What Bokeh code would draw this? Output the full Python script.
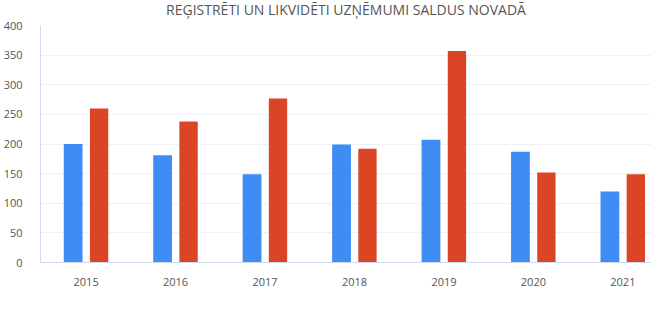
from bokeh.plotting import figure
from bokeh.models import Range1d, FixedTicker, Legend, LegendItem, ColumnDataSource
from bokeh.transform import dodge
from bokeh.embed import file_html
from bokeh.resources import INLINE

years = [2015, 2016, 2017, 2018, 2019, 2020, 2021]
registreti = [200, 181, 149, 199, 207, 187, 120]
likvideti = [260, 238, 277, 192, 357, 152, 149]
y_ticks = [0, 50, 100, 150, 200, 250, 300, 350, 400]
series_names = ["REGISTRĒTI", "LIKVIDĒTI"]
title_text = "REĢISTRĒTI UN LIKVIDĒTI UZŅĒMUMI SALDUS NOVADĀ"

BLUE = "#3f8cf5"
RED = "#dc4426"
FONT = "Open Sans"

src = ColumnDataSource(dict(year=years, reg=registreti, lik=likvideti))

p = figure(frame_width=611, frame_height=237, output_backend="svg",
           toolbar_location=None, title=title_text,
           x_range=Range1d(2014.49, 2021.32), y_range=Range1d(0, 400),
           min_border_left=35, min_border_right=0, min_border_top=33,
           min_border_bottom=0, margin=(-10, 0, -12, 0))
p.outline_line_color = None
p.background_fill_color = "white"
p.border_fill_color = "white"

p.title.align = "center"
p.title.text_font = FONT
p.title.text_font_size = "14px"
p.title.text_font_style = "normal"
p.title.text_color = "#555555"
p.title.standoff = 14

r1 = p.vbar(x=dodge("year", -0.145), top="reg", width=0.21, source=src,
            fill_color=BLUE, line_color=None)
r2 = p.vbar(x=dodge("year", 0.145), top="lik", width=0.205, source=src,
            fill_color=RED, line_color=None)

p.xaxis.ticker = FixedTicker(ticks=years)
p.yaxis.ticker = FixedTicker(ticks=y_ticks)
for ax in (p.xaxis[0], p.yaxis[0]):
    ax.major_tick_line_color = None
    ax.minor_tick_line_color = None
    ax.axis_line_color = "#cfdaf0"
    ax.axis_line_width = 1
    ax.major_label_text_font = FONT
    ax.major_label_text_font_size = "11px"
    ax.major_label_text_color = "#555555"
p.yaxis.major_label_standoff = 12
p.xaxis.major_label_standoff = 9
p.xgrid.grid_line_color = None
p.ygrid.grid_line_color = "#eef1f6"
p.ygrid.grid_line_width = 1

legend = Legend(items=[LegendItem(label=series_names[0], renderers=[r1]),
                       LegendItem(label=series_names[1], renderers=[r2])],
                orientation="horizontal", location="top_center",
                label_text_font=FONT, label_text_font_size="11px",
                label_text_color="#444444", glyph_width=8, glyph_height=8,
                spacing=28, label_standoff=8, border_line_color=None,
                background_fill_alpha=0, padding=0, margin=7)
p.add_layout(legend, "below")

open("out.html", "w").write(file_html(p, INLINE))
